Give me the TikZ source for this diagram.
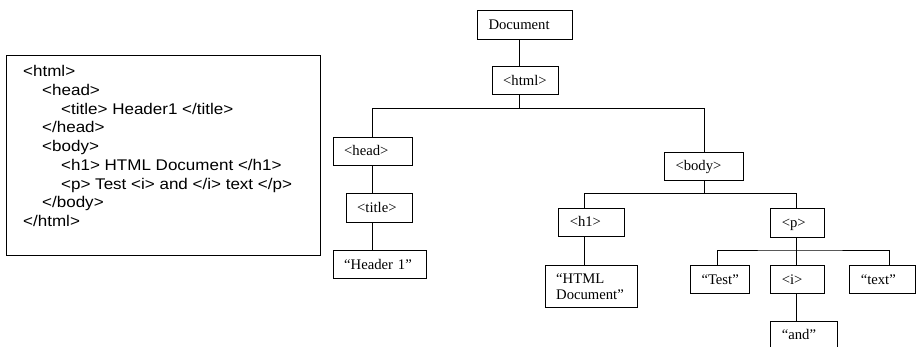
\documentclass[tikz,border=0pt]{standalone}
\usepackage{fontspec}
\setmainfont{Liberation Serif}
\newfontfamily\codefont[FakeStretch=1.1]{Liberation Sans}
\begin{document}
\begin{tikzpicture}[x=0.75pt, y=-0.75pt, line width=0.75pt,
  tbox/.style={draw, anchor=north west, align=left,
    font=\fontsize{11}{12}\selectfont,
    inner xsep=8.25pt, inner ysep=0pt, minimum height=21.2pt,
    text height=8.2pt, text depth=1.6pt},
  codeline/.style={anchor=base west, inner sep=0pt,
    font=\codefont\fontsize{11.6}{14}\selectfont}]

\useasboundingbox (0,0) rectangle (916,346);
\clip (0,0) rectangle (916,346);

% source listing
\node[draw, anchor=north west, inner sep=0pt,
      minimum width=235.5pt, minimum height=150.2pt] (codebox) at (6,54.7) {};
\node[codeline] (c1) at (22.7,76.7)  {<html>};
\node[codeline] (c2) at (41.7,95.45) {<head>};
\node[codeline] (c3) at (60.7,114.2) {<title> Header1 </title>};
\node[codeline] (c4) at (41.7,132.95) {</head>};
\node[codeline] (c5) at (41.7,151.7) {<body>};
\node[codeline] (c6) at (60.7,170.45) {<h1> HTML Document </h1>};
\node[codeline] (c7) at (60.7,189.2) {<p> Test <i> and </i> text </p>};
\node[codeline] (c8) at (41.7,207.95) {</body>};
\node[codeline] (c9) at (22.7,226.7) {</html>};

% DOM tree nodes
\node[tbox, minimum width=70.9pt, text width=54.4pt] (doc) at (477,10.5) {Document};
\node[tbox, minimum width=49.5pt, text width=33pt] (html) at (491.7,66) {<html>};
\node[tbox, minimum width=59.7pt, text width=43.2pt] (head) at (332.7,136.7) {<head>};
\node[tbox, minimum width=59.5pt, text width=43pt] (body) at (664,151.7) {<body>};
\node[tbox, minimum width=50pt, text width=33.5pt] (title) at (345.7,193.3) {<title>};
\node[tbox, minimum width=69.75pt, text width=53.25pt] (hdr) at (332.7,250) {“Header 1”};
\node[tbox, minimum width=49.5pt, text width=33pt] (h1) at (558.3,207.7) {<h1>};
\node[tbox, minimum width=40pt, text width=23.6pt] (para) at (770.3,208.3) {<p>};
\node[tbox, minimum width=69.2pt, text width=52.7pt, minimum height=31.3pt,
      text height=7.9pt, text depth=12pt] (hdoc) at (544.7,265) {“HTML\\Document”};
\node[tbox, minimum width=44pt, text width=27.5pt] (ntest) at (690,265) {“Test”};
\node[tbox, minimum width=40pt, text width=23.6pt] (ni) at (770.3,265) {<i>};
\node[tbox, minimum width=49.5pt, text width=33pt] (ntext) at (849.3,265) {“text”};
\node[tbox, minimum width=49.8pt, text width=33.3pt] (nand) at (770.3,320.7) {“and”};

% connector columns and junctions
\coordinate (colA) at (519,0);
\coordinate (colHead) at (372.3,0);
\coordinate (colBody) at (704,0);
\coordinate (colH1) at (584.3,0);
\coordinate (colP) at (796.7,0);
\coordinate (colTest) at (717.3,0);
\coordinate (colText) at (889.3,0);
\coordinate (busA) at (519,108.3);
\coordinate (busB) at (704,193.5);
\coordinate (busC) at (796.7,250);

% connectors
\draw (doc.south -| colA) -- (html.north -| colA);
\draw (html.south -| colA) -- (busA);
\draw (head.north -| colHead) |- (busA) -| (body.north -| colBody);
\draw (head.south -| colHead) -- (title.north -| colHead);
\draw (title.south -| colHead) -- (hdr.north -| colHead);
\draw (body.south -| colBody) -- (busB);
\draw (h1.north -| colH1) |- (busB) -| (para.north -| colP);
\draw (h1.south -| colH1) -- (hdoc.north -| colH1);
\draw (para.south -| colP) -- (busC);
\draw (ntest.north -| colTest) |- (busC) -| (ntext.north -| colText);
\draw (busC) -- (ni.north -| colP);
\draw (ni.south -| colP) -- (nand.north -| colP);
\end{tikzpicture}
\end{document}
